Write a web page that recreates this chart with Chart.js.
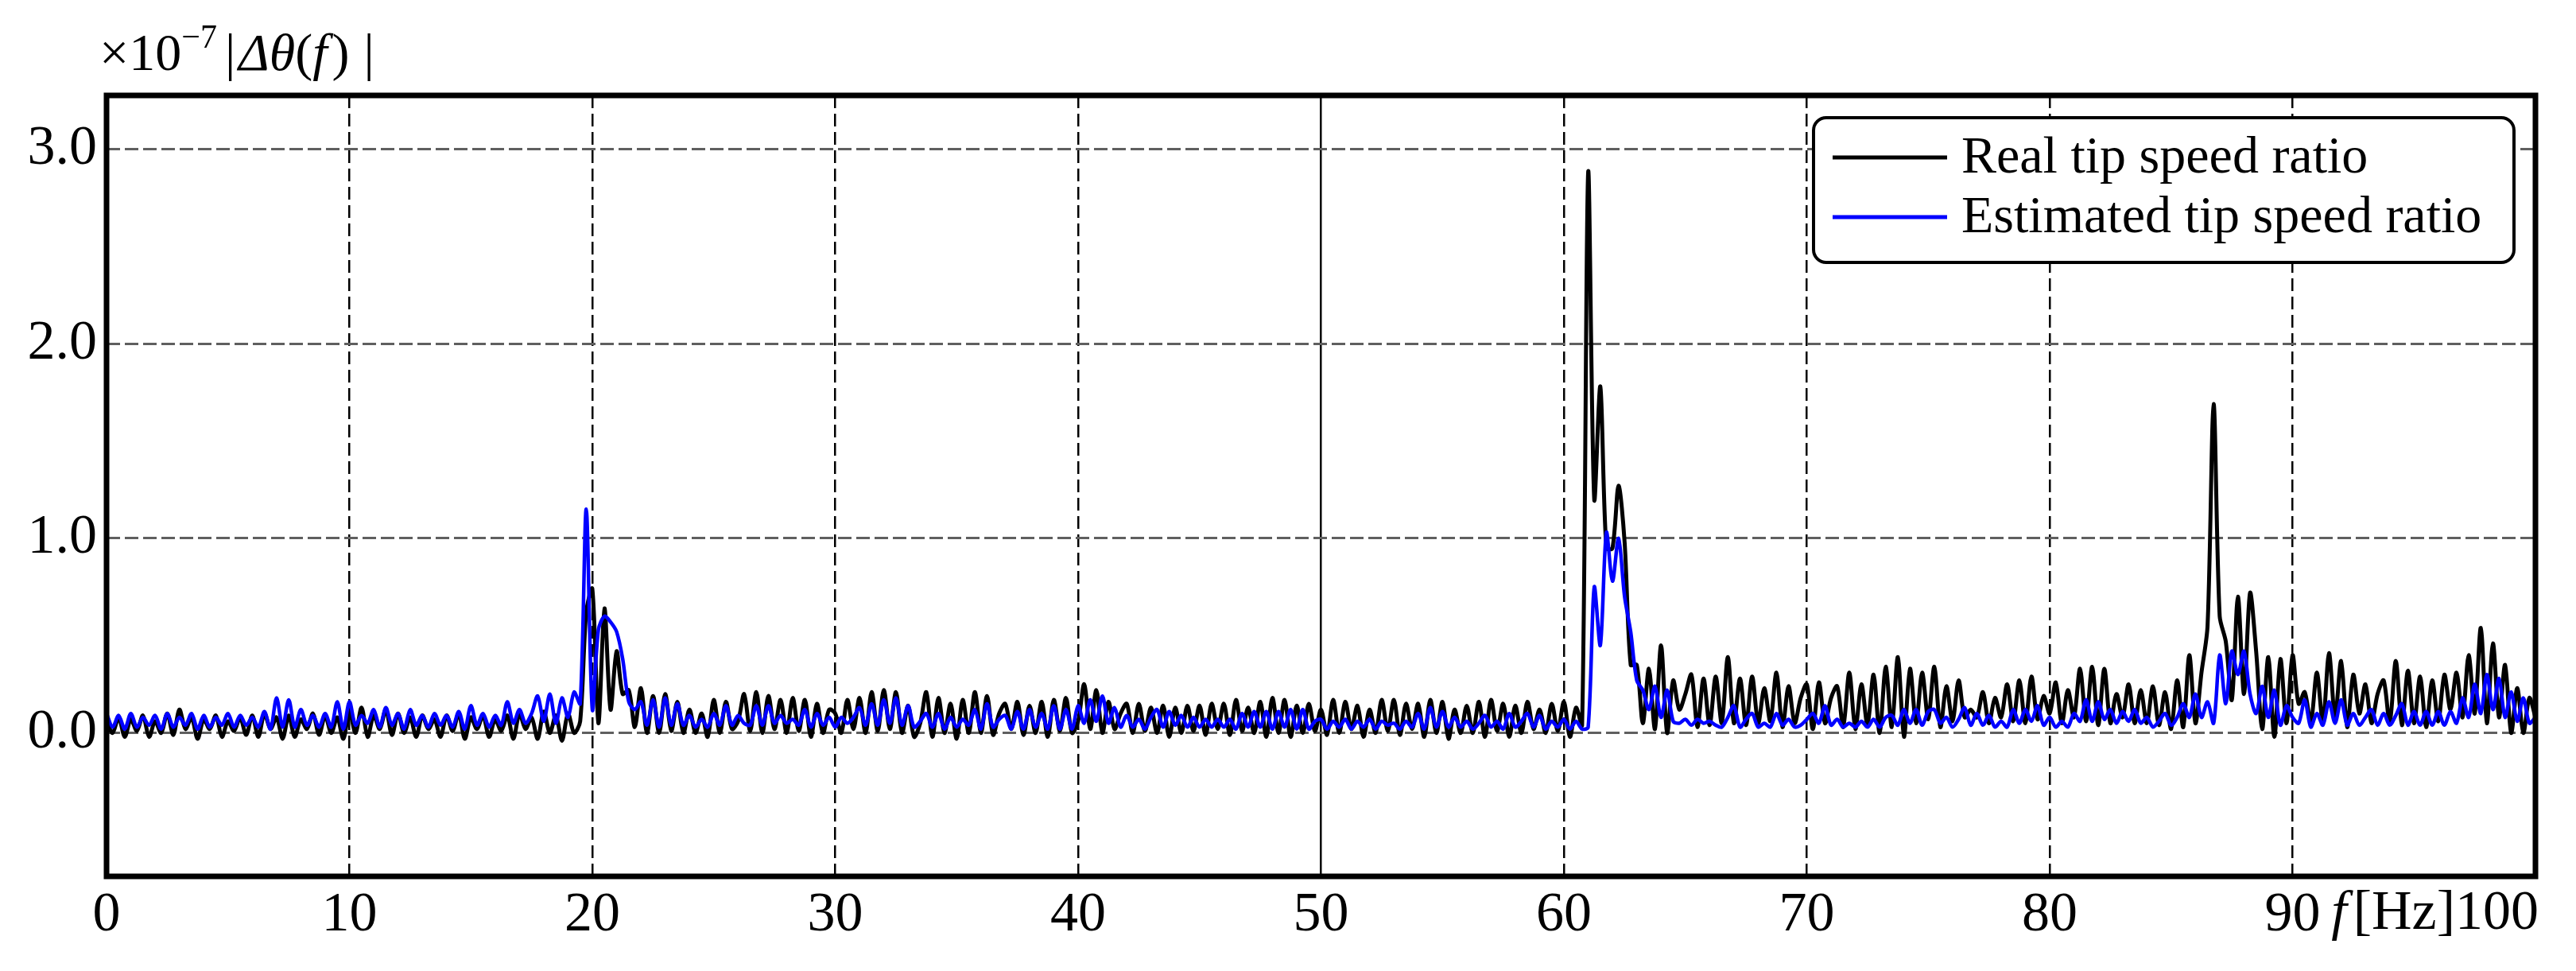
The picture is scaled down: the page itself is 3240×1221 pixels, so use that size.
<!DOCTYPE html>
<html>
<head>
<meta charset="utf-8">
<script src="https://cdn.jsdelivr.net/npm/chart.js@4.4.1/dist/chart.umd.min.js"></script>
<style>
  html, body { margin: 0; padding: 0; background: #fff; }
  #wrap { width: 3240px; height: 1221px; }
</style>
</head>
<body>
<div id="wrap"><canvas id="spec" width="3240" height="1221"></canvas></div>
<script>
// spectrum bins, 0.25 Hz apart (0 .. 100 Hz), values in units of 1e-7
const binWidthHz = 0.25;

const realTsr = [
  0.06, 0.00, 0.08, -0.02,   0.07, 0.01, 0.09, -0.02,   0.06, 0.00, 0.10, -0.01,
  0.12, 0.02, 0.08, -0.03,   0.07, 0.02, 0.09, -0.02,   0.06, 0.01, 0.08, -0.01,
  0.09, -0.02, 0.10, 0.02,   0.08, -0.03, 0.09, -0.02,  0.07, 0.02, 0.10, -0.01,
  0.09, 0.00, 0.08, -0.03,   0.11, 0.00, 0.13, -0.02,   0.09, 0.02, 0.12, -0.01,
  0.10, 0.00, 0.08, -0.02,   0.09, 0.02, 0.07, -0.02,   0.09, 0.01, 0.10, -0.03,
  0.08, 0.02, 0.09, -0.02,   0.07, 0.01, 0.09, -0.03,   0.10, 0.02, 0.08, -0.03,
  0.11, 0.00, 0.09, -0.04,   0.10, 0.00, 0.06, 0.62,    0.74, 0.05, 0.64, 0.12,
  0.42, 0.20, 0.22, 0.03,    0.23, 0.00, 0.19, 0.00,    0.20, 0.01, 0.16, 0.00,
  0.12, 0.00, 0.10, -0.02,   0.17, 0.00, 0.16, 0.02,    0.06, 0.20, 0.01, 0.21,
  0.00, 0.19, 0.02, 0.17,    0.00, 0.18, 0.01, 0.17,    -0.02, 0.15, 0.00, 0.12,
  0.10, 0.00, 0.17, 0.02,    0.18, 0.00, 0.21, 0.01,    0.22, 0.02, 0.21, 0.00,
  0.14, -0.02, 0.05, 0.21,   -0.02, 0.18, 0.00, 0.15,   -0.03, 0.17, 0.00, 0.21,
  0.00, 0.19, -0.01, 0.10,   0.15, 0.02, 0.16, -0.01,   0.14, 0.00, 0.16, -0.02,
  0.17, 0.01, 0.18, 0.00,    0.06, 0.25, 0.02, 0.22,    0.00, 0.16, 0.02, 0.10,
  0.15, 0.00, 0.15, 0.01,    0.13, 0.00, 0.14, -0.02,   0.13, 0.00, 0.14, 0.01,
  0.14, -0.01, 0.15, 0.02,   0.15, -0.01, 0.17, 0.01,   0.13, 0.00, 0.16, -0.02,
  0.18, 0.00, 0.17, -0.02,   0.14, 0.00, 0.15, 0.01,    0.12, -0.01, 0.17, 0.00,
  0.16, 0.02, 0.14, -0.02,   0.12, 0.00, 0.17, 0.01,    0.17, -0.01, 0.15, 0.02,
  0.15, -0.02, 0.17, 0.00,   0.16, -0.03, 0.12, 0.00,   0.14, 0.00, 0.16, -0.02,
  0.17, 0.01, 0.15, -0.02,   0.14, 0.00, 0.16, 0.02,    0.12, 0.00, 0.15, 0.01,
  0.16, -0.02, 0.13, 0.04,   2.88, 1.20, 1.78, 0.95,    0.95, 1.27, 0.98, 0.35,
  0.35, 0.05, 0.33, 0.02,    0.45, 0.00, 0.27, 0.12,    0.20, 0.30, 0.03, 0.28,
  0.04, 0.29, 0.05, 0.39,    0.05, 0.28, 0.04, 0.29,    0.05, 0.23, 0.06, 0.31,
  0.03, 0.24, 0.05, 0.18,    0.25, 0.02, 0.26, 0.05,    0.18, 0.24, 0.03, 0.31,
  0.02, 0.25, 0.04, 0.30,    0.00, 0.34, 0.03, 0.39,    -0.02, 0.33, 0.05, 0.31,
  0.07, 0.34, 0.03, 0.24,    0.06, 0.27, 0.08, 0.12,    0.08, 0.21, 0.05, 0.18,
  0.08, 0.25, 0.06, 0.27,    0.05, 0.29, 0.07, 0.19,    0.10, 0.26, 0.05, 0.22,
  0.08, 0.33, 0.06, 0.34,    0.04, 0.33, 0.05, 0.20,    0.08, 0.25, 0.05, 0.22,
  0.05, 0.24, 0.04, 0.21,    0.02, 0.27, 0.03, 0.40,    0.05, 0.31, 0.55, 1.69,
  0.60, 0.47, 0.17, 0.70,    0.20, 0.72, 0.42, 0.02,    0.39, -0.02, 0.38, 0.05,
  0.40, 0.15, 0.21, 0.05,    0.31, 0.05, 0.41, 0.08,    0.37, 0.03, 0.30, 0.10,
  0.25, 0.05, 0.20, 0.27,    0.05, 0.37, 0.04, 0.32,    0.05, 0.29, 0.03, 0.27,
  0.06, 0.30, 0.12, 0.31,    0.08, 0.40, 0.10, 0.54,    0.05, 0.46, 0.08, 0.35,
  0.00, 0.23, 0.00, 0.18,
  0.08
];

const estTsr = [
  0.10, 0.03, 0.09, 0.02,    0.10, 0.03, 0.08, 0.04,    0.09, 0.02, 0.10, 0.03,
  0.08, 0.04, 0.10, 0.02,    0.09, 0.03, 0.08, 0.04,    0.10, 0.03, 0.09, 0.04,
  0.08, 0.03, 0.11, 0.02,    0.18, 0.03, 0.17, 0.03,    0.12, 0.04, 0.09, 0.03,
  0.10, 0.03, 0.16, 0.02,    0.16, 0.04, 0.09, 0.05,    0.12, 0.03, 0.13, 0.04,
  0.10, 0.02, 0.12, 0.04,    0.09, 0.03, 0.10, 0.04,    0.09, 0.03, 0.11, 0.02,
  0.14, 0.04, 0.10, 0.03,    0.09, 0.04, 0.16, 0.05,    0.12, 0.05, 0.10, 0.19,
  0.06, 0.20, 0.05, 0.18,    0.08, 0.21, 0.15, 1.15,    0.12, 0.53, 0.60, 0.57,
  0.52, 0.38, 0.16, 0.12,    0.16, 0.04, 0.17, 0.03,    0.18, 0.04, 0.15, 0.04,
  0.09, 0.03, 0.07, 0.03,    0.10, 0.04, 0.14, 0.04,    0.09, 0.05, 0.04, 0.14,
  0.04, 0.14, 0.05, 0.09,    0.05, 0.07, 0.04, 0.12,    0.03, 0.10, 0.04, 0.08,
  0.03, 0.08, 0.05, 0.08,    0.13, 0.04, 0.15, 0.04,    0.17, 0.05, 0.18, 0.04,
  0.14, 0.03, 0.06, 0.10,    0.03, 0.10, 0.02, 0.08,    0.03, 0.07, 0.04, 0.12,
  0.02, 0.15, 0.03, 0.07,    0.09, 0.02, 0.11, 0.02,    0.12, 0.03, 0.10, 0.02,
  0.14, 0.02, 0.12, 0.02,    0.14, 0.05, 0.17, 0.06,    0.19, 0.05, 0.13, 0.03,
  0.09, 0.03, 0.07, 0.02,    0.08, 0.12, 0.03, 0.11,    0.04, 0.09, 0.03, 0.08,
  0.03, 0.07, 0.03, 0.07,    0.03, 0.07, 0.02, 0.10,    0.03, 0.11, 0.03, 0.11,
  0.02, 0.11, 0.03, 0.12,    0.02, 0.12, 0.02, 0.06,    0.07, 0.02, 0.06, 0.03,
  0.07, 0.02, 0.06, 0.03,    0.07, 0.02, 0.06, 0.04,    0.05, 0.02, 0.06, 0.03,
  0.10, 0.02, 0.13, 0.03,    0.11, 0.03, 0.08, 0.03,    0.06, 0.02, 0.05, 0.09,
  0.03, 0.06, 0.02, 0.10,    0.03, 0.06, 0.10, 0.03,    0.09, 0.02, 0.06, 0.03,
  0.07, 0.02, 0.06, 0.02,    0.03, 0.75, 0.45, 1.03,    0.78, 1.00, 0.70, 0.52,
  0.27, 0.22, 0.12, 0.24,    0.08, 0.22, 0.06, 0.05,    0.07, 0.04, 0.07, 0.05,
  0.06, 0.04, 0.03, 0.08,    0.14, 0.03, 0.07, 0.10,    0.03, 0.05, 0.03, 0.10,
  0.04, 0.07, 0.03, 0.04,    0.07, 0.10, 0.05, 0.14,    0.04, 0.07, 0.03, 0.05,
  0.03, 0.06, 0.03, 0.07,    0.03, 0.08, 0.09, 0.04,    0.12, 0.05, 0.12, 0.04,
  0.11, 0.12, 0.05, 0.08,    0.03, 0.07, 0.13, 0.04,    0.10, 0.04, 0.09, 0.03,
  0.06, 0.03, 0.12, 0.05,    0.12, 0.06, 0.14, 0.04,    0.08, 0.03, 0.06, 0.03,
  0.10, 0.06, 0.17, 0.06,    0.16, 0.07, 0.12, 0.05,    0.11, 0.06, 0.12, 0.05,
  0.08, 0.03, 0.06, 0.10,    0.04, 0.08, 0.15, 0.08,    0.20, 0.08, 0.16, 0.05,
  0.40, 0.15, 0.42, 0.30,    0.42, 0.20, 0.10, 0.24,    0.08, 0.22, 0.04, 0.14,
  0.08, 0.05, 0.17, 0.03,    0.10, 0.04, 0.16, 0.05,    0.17, 0.04, 0.10, 0.04,
  0.08, 0.12, 0.04, 0.10,    0.04, 0.09, 0.15, 0.04,    0.11, 0.04, 0.11, 0.04,
  0.11, 0.04, 0.11, 0.05,    0.18, 0.08, 0.25, 0.10,    0.30, 0.12, 0.28, 0.08,
  0.21, 0.06, 0.18, 0.05,
  0.08
];

const freqHz = realTsr.map((_, i) => i * binWidthHz);
const xTickVals = [0, 10, 20, 30, 40, 50, 60, 70, 80, 90, 100];
const yTickVals = [0, 1, 2, 3];
const seriesNames = ['Real tip speed ratio', 'Estimated tip speed ratio'];
const seriesColors = ['#000000', '#0000ff'];

const SERIF = '"Liberation Serif", "Times New Roman", serif';

// draw a row of text pieces with mixed style, left to right
function drawRuns(ctx, runs, x, y) {
  let cx = x;
  for (const r of runs) {
    ctx.font = (r.italic ? 'italic ' : '') + r.size + 'px ' + SERIF;
    ctx.fillText(r.t, cx, y + (r.dy || 0));
    cx += ctx.measureText(r.t).width + (r.gap || 0);
  }
  return cx;
}
function runsWidth(ctx, runs) {
  let w = 0;
  for (const r of runs) {
    ctx.font = (r.italic ? 'italic ' : '') + r.size + 'px ' + SERIF;
    w += ctx.measureText(r.t).width + (r.gap || 0);
  }
  return w;
}

const decor = {
  id: 'decor',
  beforeDraw(chart) {
    const c = chart.ctx;
    c.save();
    c.fillStyle = '#fff';
    c.fillRect(0, 0, chart.width, chart.height);
    c.restore();
  },
  afterDraw(chart) {
    const c = chart.ctx;
    const a = chart.chartArea;
    c.save();

    // frame
    c.strokeStyle = '#000';
    c.lineWidth = 7;
    c.strokeRect(a.left, a.top, a.right - a.left, a.bottom - a.top);

    // y label at top left
    c.fillStyle = '#000';
    c.textBaseline = 'alphabetic';
    drawRuns(c, [
      { t: '\u00d710', size: 66 },
      { t: '\u22127', size: 42, dy: -28, gap: 10 },
      { t: '|', size: 66, gap: 4 },
      { t: '\u0394\u03b8', size: 66, italic: true },
      { t: '(', size: 66 },
      { t: 'f', size: 66, italic: true, gap: 6 },
      { t: ')', size: 66, gap: 18 },
      { t: '|', size: 66 }
    ], 125, a.top - 32);

    // unit + last x tick
    const xs = chart.scales.x;
    const lastRuns = [
      { t: 'f', size: 70, italic: true, gap: 8 },
      { t: '[Hz]', size: 70 },
      { t: '100', size: 70 }
    ];
    c.textBaseline = 'alphabetic';
    const w = runsWidth(c, lastRuns);
    drawRuns(c, lastRuns, xs.getPixelForValue(100) + 4 - w, a.bottom + 66);

    // legend box
    const lw = 881, lh = 182;
    const lx = a.right - 27 - lw, ly = a.top + 28;
    const r = 16;
    c.beginPath();
    c.moveTo(lx + r, ly);
    c.arcTo(lx + lw, ly, lx + lw, ly + lh, r);
    c.arcTo(lx + lw, ly + lh, lx, ly + lh, r);
    c.arcTo(lx, ly + lh, lx, ly, r);
    c.arcTo(lx, ly, lx + lw, ly, r);
    c.closePath();
    c.fillStyle = '#fff';
    c.fill();
    c.lineWidth = 4;
    c.strokeStyle = '#000';
    c.stroke();

    chart.data.datasets.forEach((ds, i) => {
      const rowY = ly + 50 + i * 75;
      c.beginPath();
      c.moveTo(lx + 24, rowY);
      c.lineTo(lx + 168, rowY);
      c.strokeStyle = ds.borderColor;
      c.lineWidth = 5;
      c.stroke();
      c.fillStyle = '#000';
      c.font = '66px ' + SERIF;
      c.textBaseline = 'middle';
      c.fillText(ds.label, lx + 186, rowY + 2);
    });
    c.restore();
  }
};

const ctx = document.getElementById('spec').getContext('2d');
new Chart(ctx, {
  type: 'line',
  data: {
    datasets: [
      {
        label: seriesNames[0],
        data: freqHz.map((f, i) => ({ x: f, y: realTsr[i] })),
        borderColor: seriesColors[0],
        borderWidth: 5,
        pointRadius: 0,
        tension: 0.3,
        order: 2
      },
      {
        label: seriesNames[1],
        data: freqHz.map((f, i) => ({ x: f, y: estTsr[i] })),
        borderColor: seriesColors[1],
        borderWidth: 4.5,
        pointRadius: 0,
        tension: 0.3,
        order: 1
      }
    ]
  },
  options: {
    responsive: false,
    animation: false,
    devicePixelRatio: 1,
    layout: { padding: { top: 120, right: 51, left: 0, bottom: 0 } },
    plugins: { legend: { display: false }, tooltip: { enabled: false } },
    scales: {
      x: {
        type: 'linear',
        min: 0,
        max: 100,
        z: 1,
        afterBuildTicks: s => { s.ticks = xTickVals.map(v => ({ value: v })); },
        afterFit: s => { s.height = 119; },
        ticks: {
          callback: v => (v === 100 ? '' : String(v)),
          font: { family: SERIF, size: 70 },
          color: '#000',
          padding: 8,
          maxRotation: 0
        },
        grid: { color: '#000', lineWidth: 2.5, drawTicks: false },
        border: {
          display: false,
          dash: c => (c.tick && c.tick.value === 50 ? [] : [16, 7])
        }
      },
      y: {
        min: -0.737,
        max: 3.276,
        z: 1,
        afterBuildTicks: s => { s.ticks = yTickVals.map(v => ({ value: v })); },
        afterFit: s => { s.width = 134; },
        ticks: {
          callback: v => Number(v).toFixed(1),
          font: { family: SERIF, size: 70 },
          color: '#000',
          padding: 12
        },
        grid: { color: '#5f5f5f', lineWidth: 3, drawTicks: false },
        border: { display: false, dash: [17, 6] }
      }
    }
  },
  plugins: [decor]
});
</script>
</body>
</html>
